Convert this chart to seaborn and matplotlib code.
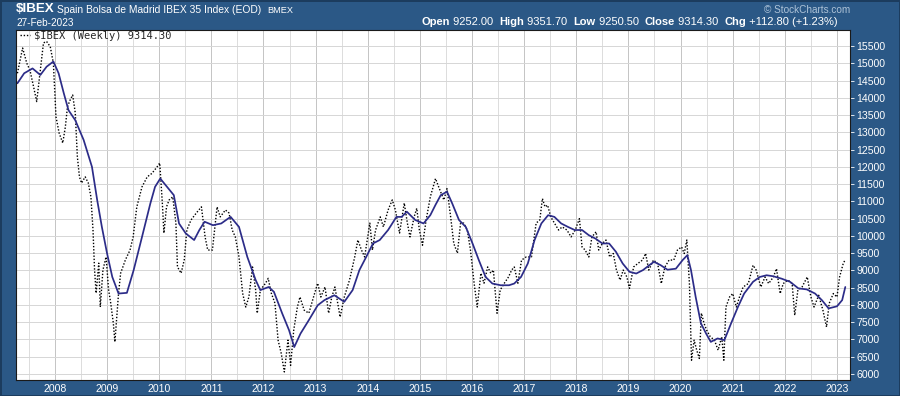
import numpy as np
import pandas as pd
import matplotlib
matplotlib.use('Agg')
import matplotlib.pyplot as plt
import seaborn as sns

# weekly close (decimal years)
close_t = [2007.28, 2007.38, 2007.46, 2007.52, 2007.59, 2007.65, 2007.72, 2007.78, 2007.84, 2007.91,
           2007.97, 2008.02, 2008.08, 2008.15, 2008.20, 2008.24, 2008.29, 2008.34, 2008.39, 2008.43,
           2008.47, 2008.51, 2008.58, 2008.64, 2008.69, 2008.73, 2008.76, 2008.79, 2008.84, 2008.87,
           2008.92, 2008.98, 2009.03, 2009.07, 2009.12, 2009.15, 2009.22, 2009.26, 2009.35, 2009.44,
           2009.50, 2009.57, 2009.67, 2009.77, 2009.86, 2009.96, 2010.01, 2010.06, 2010.09, 2010.14,
           2010.19, 2010.26, 2010.32, 2010.35, 2010.42, 2010.48, 2010.53, 2010.61, 2010.71, 2010.81,
           2010.88, 2010.93, 2011.02, 2011.11, 2011.17, 2011.27, 2011.34, 2011.40, 2011.46, 2011.53,
           2011.60, 2011.66, 2011.72, 2011.79, 2011.85, 2011.88, 2011.94, 2012.04, 2012.09, 2012.15,
           2012.22, 2012.28, 2012.34, 2012.40, 2012.47, 2012.52, 2012.58, 2012.65, 2012.70, 2012.78,
           2012.87, 2012.96, 2013.04, 2013.10, 2013.18, 2013.25, 2013.31, 2013.37, 2013.47, 2013.55,
           2013.65, 2013.75, 2013.81, 2013.88, 2013.94, 2014.04, 2014.09, 2014.15, 2014.24, 2014.30,
           2014.39, 2014.47, 2014.53, 2014.61, 2014.70, 2014.76, 2014.81, 2014.89, 2014.94, 2014.99,
           2015.05, 2015.12, 2015.20, 2015.30, 2015.36, 2015.46, 2015.52, 2015.59, 2015.65, 2015.72,
           2015.78, 2015.84, 2015.91, 2015.97, 2016.04, 2016.10, 2016.17, 2016.23, 2016.30, 2016.36,
           2016.41, 2016.48, 2016.54, 2016.62, 2016.70, 2016.76, 2016.81, 2016.88, 2016.95, 2017.04,
           2017.14, 2017.23, 2017.30, 2017.35, 2017.40, 2017.45, 2017.51, 2017.58, 2017.66, 2017.73,
           2017.82, 2017.90, 2017.98, 2018.06, 2018.11, 2018.17, 2018.24, 2018.30, 2018.38, 2018.43,
           2018.50, 2018.57, 2018.64, 2018.71, 2018.77, 2018.84, 2018.90, 2018.97, 2019.02, 2019.10,
           2019.18, 2019.27, 2019.33, 2019.39, 2019.48, 2019.56, 2019.63, 2019.70, 2019.78, 2019.87,
           2019.94, 2020.02, 2020.07, 2020.12, 2020.17, 2020.21, 2020.26, 2020.31, 2020.36, 2020.40,
           2020.45, 2020.50, 2020.57, 2020.65, 2020.72, 2020.79, 2020.83, 2020.87, 2020.94, 2021.00,
           2021.07, 2021.13, 2021.20, 2021.30, 2021.39, 2021.45, 2021.54, 2021.62, 2021.69, 2021.78,
           2021.84, 2021.91, 2021.97, 2022.06, 2022.14, 2022.19, 2022.25, 2022.33, 2022.43, 2022.50,
           2022.56, 2022.65, 2022.73, 2022.80, 2022.85, 2022.93, 2023.00, 2023.05, 2023.12, 2023.16]
close_v = [14710, 15440, 15000, 14800, 14320, 13890, 14800, 15590, 15630, 15480,
           15000, 13450, 12980, 12690, 13160, 13740, 13930, 14080, 13560, 12290,
           11710, 11530, 11710, 11530, 11130, 10170, 9010, 8340, 9210, 7940,
           9010, 9390, 8430, 8050, 7470, 6930, 8340, 8920, 9300, 9590,
           9970, 10840, 11420, 11710, 11810, 12000, 12110, 10950, 10080, 10840,
           11040, 11130, 10370, 9100, 8920, 9300, 10170, 10460, 10660, 10840,
           9970, 9590, 9590, 10840, 10550, 10750, 10660, 10170, 9970, 9390,
           8340, 7940, 8230, 9100, 8430, 7760, 8430, 8630, 8770, 8340,
           8050, 6980, 6600, 6060, 6980, 6250, 7270, 7940, 8230, 7850,
           7760, 8230, 8630, 8230, 8520, 7760, 8230, 8520, 7650, 8230,
           8720, 9390, 9880, 9590, 9390, 10370, 9590, 10170, 10550, 10260,
           10750, 11040, 10750, 10080, 10950, 10370, 9970, 10550, 10800, 10170,
           9730, 10460, 11130, 11660, 11420, 11040, 11370, 10550, 9780, 9500,
           10370, 10370, 10170, 9590, 8630, 7940, 8920, 8630, 9100, 8920,
           9010, 7760, 8430, 8630, 8810, 9010, 9100, 8630, 9300, 9390,
           9390, 10370, 10460, 11080, 10840, 10890, 10550, 10370, 10170, 10260,
           10170, 9970, 10170, 10500, 9680, 9590, 9390, 9970, 10120, 9590,
           9780, 9880, 9390, 9490, 9010, 8720, 9010, 8810, 8480, 9100,
           9200, 9300, 9490, 9010, 9300, 9200, 8620, 9100, 9300, 9300,
           9590, 9680, 9490, 9880, 8620, 6400, 6980, 6690, 6450, 7760,
           7470, 7270, 7080, 6980, 6690, 7080, 6400, 7940, 8230, 8330,
           7940, 8230, 8520, 8620, 9150, 9010, 8520, 8810, 8620, 8810,
           9050, 8330, 8620, 8720, 8620, 7700, 8430, 8520, 8810, 8230,
           7940, 8280, 7850, 7360, 8040, 8330, 8230, 8810, 9200, 9314.3]

# moving average (solid navy line)
ma_t = [2007.28, 2007.41, 2007.57, 2007.72, 2007.84, 2007.97, 2008.07, 2008.17, 2008.26, 2008.39,
        2008.55, 2008.71, 2008.81, 2008.90, 2009.00, 2009.10, 2009.22, 2009.38, 2009.51, 2009.67,
        2009.83, 2009.92, 2010.02, 2010.15, 2010.28, 2010.38, 2010.51, 2010.67, 2010.77, 2010.87,
        2011.03, 2011.19, 2011.32, 2011.37, 2011.53, 2011.69, 2011.85, 2011.94, 2012.10, 2012.20,
        2012.36, 2012.49, 2012.59, 2012.71, 2012.87, 2013.04, 2013.17, 2013.36, 2013.55, 2013.71,
        2013.84, 2013.97, 2014.10, 2014.23, 2014.39, 2014.55, 2014.65, 2014.75, 2014.91, 2015.07,
        2015.20, 2015.30, 2015.40, 2015.52, 2015.62, 2015.75, 2015.88, 2016.01, 2016.13, 2016.26,
        2016.39, 2016.55, 2016.71, 2016.81, 2016.94, 2017.07, 2017.20, 2017.33, 2017.46, 2017.58,
        2017.71, 2017.84, 2017.97, 2018.11, 2018.24, 2018.37, 2018.50, 2018.63, 2018.76, 2018.89,
        2019.02, 2019.15, 2019.28, 2019.40, 2019.49, 2019.62, 2019.75, 2019.91, 2020.04, 2020.13,
        2020.20, 2020.29, 2020.39, 2020.49, 2020.58, 2020.71, 2020.84, 2020.97, 2021.10, 2021.22,
        2021.39, 2021.52, 2021.65, 2021.78, 2021.94, 2022.10, 2022.26, 2022.42, 2022.58, 2022.71,
        2022.84, 2023.00, 2023.10, 2023.16]
ma_v = [14420, 14710, 14850, 14660, 14900, 15050, 14710, 14130, 13640, 13350,
        12780, 12000, 11040, 10260, 9490, 8810, 8330, 8350, 9010, 9970,
        10940, 11420, 11660, 11420, 11180, 10360, 10070, 9880, 10170, 10410,
        10310, 10360, 10500, 10550, 10260, 9390, 8720, 8430, 8520, 8380,
        7750, 7270, 6780, 7170, 7560, 7990, 8140, 8280, 8090, 8430,
        9010, 9390, 9780, 9880, 10170, 10550, 10550, 10700, 10460, 10360,
        10600, 10900, 11180, 11280, 10940, 10460, 10260, 9780, 9300, 8810,
        8620, 8570, 8570, 8620, 8810, 9200, 9880, 10360, 10600, 10550,
        10360, 10260, 10170, 10170, 10020, 9920, 9780, 9780, 9540, 9200,
        8960, 8910, 9010, 9150, 9250, 9150, 9020, 9050, 9300, 9440,
        9010, 8230, 7470, 7170, 6930, 7030, 6980, 7470, 7940, 8330,
        8670, 8810, 8860, 8830, 8760, 8670, 8480, 8450, 8330, 8140,
        7900, 7960, 8140, 8520]

y_ticks = list(range(6000, 16000, 500))
year_ticks = list(range(2008, 2024))

BG = '#2b5886'
W, H = 900, 396

sns.set_style('white')
plt.rcParams['font.family'] = ['Liberation Sans', 'DejaVu Sans']

fig = plt.figure(figsize=(W / 100, H / 100), dpi=100, facecolor=BG)
fig.patch.set_edgecolor('#1c3c5e')
fig.patch.set_linewidth(2)
ax = fig.add_axes([16 / W, (H - 380) / H, (850 - 16) / W, (380 - 30) / H])
ax.set_facecolor('white')

ax.set_xlim(2007.253, 2023.25)
ax.set_ylim(5826, 15963)

# grid: Jan lines a bit darker than Jul lines, horizontal every 500
for yr in range(2007, 2024):
    ax.axvline(yr, color='#c4c4c4', lw=0.7, zorder=0)
    ax.axvline(yr + 0.5, color='#dcdcdc', lw=0.7, zorder=0)
for v in y_ticks:
    ax.axhline(v, color='#d6d6d6', lw=0.7, zorder=0)

sns.lineplot(x=close_t, y=close_v, ax=ax, color='black', lw=1.0,
             linestyle=(0, (1, 1.3)), estimator=None, sort=False,
             label='$IBEX (Weekly) 9314.30')
sns.lineplot(x=ma_t, y=ma_v, ax=ax, color='#2c2c88', lw=1.25,
             estimator=None, sort=False)

leg = ax.legend(loc='upper left', bbox_to_anchor=(-0.002, 1.012), frameon=False,
                handlelength=1.0, handletextpad=0.4, borderaxespad=0.1,
                prop={'family': 'DejaVu Sans Mono', 'size': 7.5})

ax.yaxis.tick_right()
ax.set_yticks(y_ticks)
ax.set_yticklabels([str(v) for v in y_ticks])
ax.set_xticks(year_ticks)
ax.set_xticklabels([str(y) for y in year_ticks])
ax.tick_params(axis='y', colors='white', labelsize=7.6, length=3, width=0.6, pad=1.5,
               right=True, left=False)
ax.tick_params(axis='x', colors='white', labelsize=7.6, length=0, pad=3)
ax.set_xlabel('')
ax.set_ylabel('')
for s in ax.spines.values():
    s.set_color('#1a1a1a')
    s.set_linewidth(0.8)

renderer = fig.canvas.get_renderer()

# header texts
fig.text(16 / W, 1 - 9.5 / H, '$IBEX', color='white', fontsize=9.6, fontweight='bold',
         va='center', ha='left')
name = fig.text(57 / W, 1 - 10 / H, 'Spain Bolsa de Madrid IBEX 35 Index (EOD)',
                color='white', fontsize=7.4, va='center', ha='left')
name_end = name.get_window_extent(renderer).x1
fig.text((name_end + 6) / W, 1 - 10.5 / H, 'BMEX', color='white', fontsize=6.6,
         va='center', ha='left')
fig.text(16 / W, 1 - 23 / H, '27-Feb-2023', color='white', fontsize=7.2, va='center', ha='left')
fig.text(850 / W, 1 - 10 / H, '\u00a9 StockCharts.com', color='#aec3d8', fontsize=7.2,
         va='center', ha='right')

pieces = [('Open', True), (' 9252.00  ', False), ('High', True), (' 9351.70  ', False),
          ('Low', True), (' 9250.50  ', False), ('Close', True), (' 9314.30  ', False),
          ('Chg', True), (' +112.80 (+1.23%)', False)]
texts = []
for s, bold in pieces:
    t = fig.text(0, 1 - 22 / H, s, color='white', fontsize=8.0,
                 fontweight='bold' if bold else 'normal', va='center', ha='left')
    texts.append(t)
widths = [t.get_window_extent(renderer).width for t in texts]
x = 838 - sum(widths)
for t, w in zip(texts, widths):
    t.set_x(x / W)
    x += w

fig.savefig('out.png', dpi=100, facecolor=BG, edgecolor=fig.patch.get_edgecolor())
